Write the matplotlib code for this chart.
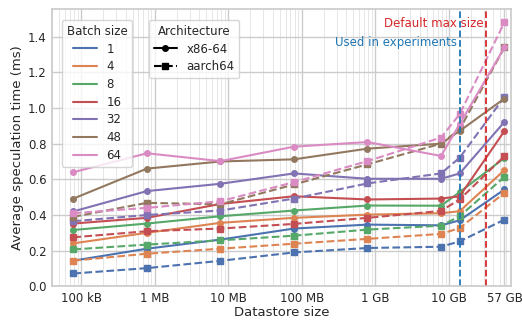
import matplotlib
matplotlib.use("Agg")
import matplotlib.pyplot as plt
import seaborn as sns
from matplotlib.lines import Line2D

sns.set_theme(style="whitegrid")
plt.rcParams["font.family"] = ["DejaVu Sans"]

# datastore sizes in bytes
sizes = [78.125e3, 781.25e3, 7.8125e6, 78.125e6, 781.25e6, 7.8125e9, 14e9, 57e9]
batch_sizes = [1, 4, 8, 16, 32, 48, 64]

# average speculation time (ms), one row per batch size
x86_times = [
    [0.144, 0.211, 0.262, 0.324, 0.346, 0.342, 0.370, 0.543],
    [0.241, 0.300, 0.356, 0.384, 0.402, 0.410, 0.421, 0.652],
    [0.316, 0.352, 0.393, 0.425, 0.453, 0.452, 0.528, 0.720],
    [0.352, 0.384, 0.462, 0.505, 0.487, 0.492, 0.505, 0.871],
    [0.420, 0.534, 0.575, 0.633, 0.603, 0.603, 0.633, 0.922],
    [0.492, 0.660, 0.700, 0.712, 0.772, 0.800, 0.871, 1.053],
    [0.640, 0.746, 0.702, 0.783, 0.809, 0.731, 0.909, 1.340],
]
aarch64_times = [
    [0.072, 0.102, 0.143, 0.190, 0.215, 0.222, 0.252, 0.374],
    [0.144, 0.183, 0.211, 0.239, 0.266, 0.294, 0.327, 0.524],
    [0.207, 0.234, 0.258, 0.284, 0.318, 0.340, 0.393, 0.614],
    [0.275, 0.309, 0.324, 0.350, 0.384, 0.423, 0.487, 0.730],
    [0.365, 0.400, 0.425, 0.492, 0.577, 0.633, 0.721, 1.062],
    [0.390, 0.468, 0.460, 0.571, 0.684, 0.800, 0.880, 1.340],
    [0.410, 0.440, 0.477, 0.584, 0.702, 0.834, 0.965, 1.481],
]

tick_pos = [1e5, 1e6, 1e7, 1e8, 1e9, 1e10, 57e9]
tick_labels = ["100 kB", "1 MB", "10 MB", "100 MB", "1 GB", "10 GB", "57 GB"]
used_size = 14e9
default_max = 32e9

colors = sns.color_palette("deep", len(batch_sizes))

fig, ax = plt.subplots(figsize=(5.22, 3.21), dpi=100)
fig.subplots_adjust(left=0.0996, right=0.979, top=0.972, bottom=0.108)

for i, bs in enumerate(batch_sizes):
    ax.plot(sizes, x86_times[i], "-o", color=colors[i], lw=1.5, ms=4)
    ax.plot(sizes, aarch64_times[i], "--s", color=colors[i], lw=1.5, ms=4)

ax.axvline(used_size, color="tab:blue", ls="--", lw=1.3)
ax.axvline(default_max, color="tab:red", ls="--", lw=1.3)
ax.text(default_max * 0.93, 1.475, "Default max size", color="tab:red",
        ha="right", va="center", fontsize=8.5)
ax.text(used_size * 0.93, 1.365, "Used in experiments", color="tab:blue",
        ha="right", va="center", fontsize=8.5)

ax.set_xscale("log")
ax.set_xlim(4.0e4, 7.0e10)
ax.set_ylim(0, 1.555)
ax.set_xticks(tick_pos)
ax.set_xticklabels(tick_labels)
ax.tick_params(axis="both", which="both", length=0, labelsize=8.5)
ax.tick_params(axis="x", pad=4)
ax.tick_params(axis="y", pad=4)
ax.grid(which="minor", axis="x", color="0.9", lw=0.7)
ax.set_xlabel("Datastore size", fontsize=9.5, labelpad=1)
ax.set_ylabel("Average speculation time (ms)", fontsize=9.5, labelpad=3)

batch_handles = [Line2D([], [], color=c, lw=1.5) for c in colors]
leg1 = ax.legend(batch_handles, [str(b) for b in batch_sizes], title="Batch size",
                 loc="upper left", bbox_to_anchor=(0.022, 0.96), borderaxespad=0,
                 fontsize=8.5, title_fontsize=8.5, labelspacing=0.4)
ax.add_artist(leg1)
arch_handles = [Line2D([], [], color="black", ls="-", marker="o", lw=1.5, ms=4),
                Line2D([], [], color="black", ls="--", marker="s", lw=1.5, ms=4)]
ax.legend(arch_handles, ["x86-64", "aarch64"], title="Architecture",
          loc="upper left", bbox_to_anchor=(0.211, 0.96), borderaxespad=0,
          fontsize=8.5, title_fontsize=8.5, labelspacing=0.4)

fig.savefig("out.png", dpi=100)
